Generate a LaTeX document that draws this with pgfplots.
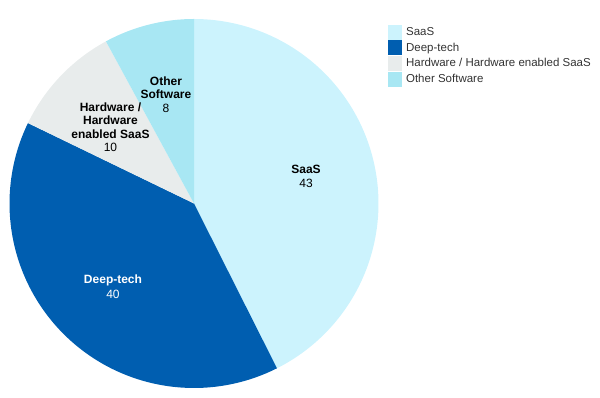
\documentclass[border=0pt]{standalone}
\usepackage{pgfplots}
\pgfplotsset{compat=1.18}
\usepackage{fontspec}
\setmainfont{Liberation Sans}
\definecolor{saas}{HTML}{CCF3FD}
\definecolor{deep}{HTML}{005EB0}
\definecolor{hw}{HTML}{E8ECEC}
\definecolor{other}{HTML}{A8E7F3}
\definecolor{txt}{HTML}{333333}
% data values
\def\vA{43}\def\vB{40}\def\vC{10}\def\vD{8}
\pgfmathsetmacro\tot{\vA+\vB+\vC+\vD}
\pgfmathsetmacro\aA{90}
\pgfmathsetmacro\aB{\aA-360*\vA/\tot}
\pgfmathsetmacro\aC{\aB-360*\vB/\tot}
\pgfmathsetmacro\aD{\aC-360*\vC/\tot}
\pgfmathsetmacro\aE{\aD-360*\vD/\tot}
\begin{document}
\begin{tikzpicture}
\begin{axis}[
  scale only axis, width=600pt, height=398pt,
  xmin=0, xmax=600, ymin=0, ymax=398,
  hide axis, clip=false,
  legend cell align=left,
  legend style={at={(axis cs:387.5,373.5)}, anchor=north west, draw=none, fill=none,
    font=\fontsize{11.5}{14}\selectfont\color{txt}, inner sep=0pt, row sep=1.3pt,
    /tikz/every odd column/.style={column sep=3pt}},
]
\path (axis cs:0,0) rectangle (axis cs:600,398);
\addplot[fill=saas, draw=none, domain=\aB:\aA, samples=120, forget plot]
  ({194+184.5*cos(x)},{194.5+184.5*sin(x)}) -- (axis cs:194,194.5) -- cycle;
\addplot[fill=deep, draw=none, domain=\aC:\aB, samples=120, forget plot]
  ({194+184.5*cos(x)},{194.5+184.5*sin(x)}) -- (axis cs:194,194.5) -- cycle;
\addplot[fill=hw, draw=none, domain=\aD:\aC, samples=40, forget plot]
  ({194+184.5*cos(x)},{194.5+184.5*sin(x)}) -- (axis cs:194,194.5) -- cycle;
\addplot[fill=other, draw=none, domain=\aE:\aD, samples=40, forget plot]
  ({194+184.5*cos(x)},{194.5+184.5*sin(x)}) -- (axis cs:194,194.5) -- cycle;

\addlegendimage{legend image code/.code={\fill[saas] (0pt,-7pt) rectangle (13pt,7pt);}}
\addlegendentry{SaaS}
\addlegendimage{legend image code/.code={\fill[deep] (0pt,-7pt) rectangle (13pt,7pt);}}
\addlegendentry{Deep-tech}
\addlegendimage{legend image code/.code={\fill[hw] (0pt,-7pt) rectangle (13pt,7pt);}}
\addlegendentry{Hardware / Hardware enabled SaaS}
\addlegendimage{legend image code/.code={\fill[other] (0pt,-7pt) rectangle (13pt,7pt);}}
\addlegendentry{Other Software}

\node[align=center, font=\fontsize{12}{14}\selectfont] at (axis cs:306,221.5) {\textbf{SaaS}\\43};
\node[align=center, font=\fontsize{12}{14.5}\selectfont, text=white] at (axis cs:113,111.5) {\textbf{Deep-tech}\\40};
\node[align=center, font=\fontsize{12}{13.5}\selectfont] at (axis cs:110.5,271) {\textbf{Hardware /}\\\textbf{Hardware}\\\textbf{enabled SaaS}\\10};
\node[align=center, font=\fontsize{12}{13.5}\selectfont] at (axis cs:166,303.5) {\textbf{Other}\\\textbf{Software}\\8};
\end{axis}
\end{tikzpicture}
\end{document}
